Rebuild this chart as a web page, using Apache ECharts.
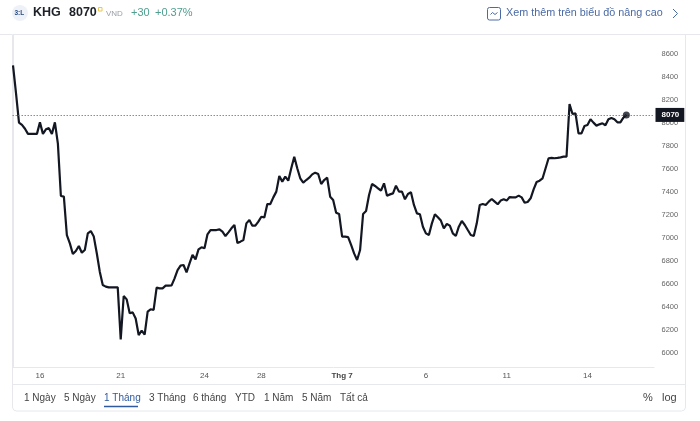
<!DOCTYPE html>
<html><head><meta charset="utf-8">
<style>html,body{margin:0;padding:0;background:#fff}#c{width:700px;height:421px}</style>
<script src="https://cdn.jsdelivr.net/npm/echarts@6/dist/echarts.min.js"></script>
</head><body><div id="c"></div>
<script>
const closes = [
8500,8260,8003,7983,7950,7905,7905,7905,7905,8005,7905,7945,7955,7905,8005,7820,7365,7360,7025,6953,
6860,6887,6930,6872,6895,7040,7060,7012,6867,6707,6591,6577,6570,6570,6570,6570,6118,6495,6466,6345,
6353,6300,6156,6194,6160,6360,6380,6374,6568,6562,6562,6585,6585,6588,6649,6721,6759,6765,6701,6779,
6852,6814,6901,6919,6910,7032,7069,7069,7069,7075,7055,7017,7049,7084,7113,6956,6968,6982,7127,7156,
7107,7107,7142,7185,7179,7295,7295,7353,7403,7539,7490,7533,7498,7606,7707,7606,7519,7481,7504,7524,
7553,7568,7556,7469,7504,7524,7359,7330,7220,7208,7011,7011,7008,6939,6866,6808,6895,7208,7234,7374,
7469,7452,7432,7411,7475,7368,7379,7388,7455,7403,7403,7336,7383,7397,7287,7214,7206,7098,7040,7026,
7127,7206,7180,7151,7084,7122,7107,7040,7017,7098,7148,7113,7069,7026,7017,7127,7287,7295,7287,7316,
7339,7316,7293,7325,7336,7325,7356,7353,7353,7368,7353,7307,7313,7345,7423,7487,7498,7519,7606,7693,
7696,7693,7696,7701,7707,7707,8165,8078,8084,7910,7910,7974,7983,8032,8003,7977,7988,7997,7980,8032,
8043,8032,8006,8006,8046,8070];
const lastPrice = 8070;
const xTickIndex = [9,36,64,83,110,138,165,192];
const xTickLabels = ['16','21','24','28','Thg 7','6','11','14'];
const yTicks = [6000,6200,6400,6600,6800,7000,7200,7400,7600,7800,8000,8200,8400,8600];
const rangeLabels = [['1 Ngày',24],['5 Ngày',64],['1 Tháng',104],['3 Tháng',149],['6 tháng',193],['YTD',235],['1 Năm',264],['5 Năm',302],['Tất cả',340]];

const F = '"Liberation Sans", Arial, sans-serif';
const border = '#e6e8ec';
const dark = '#131722';
const seg = (x1,y1,x2,y2,c,w) => ({type:'line',silent:true,shape:{x1,y1,x2,y2},style:{stroke:c||border,lineWidth:w||1}});
const txt = (x,y,t,s) => ({type:'text',silent:true,x,y,style:Object.assign({text:t,font:'11px '+F,fill:'#444',textVerticalAlign:'middle'},s||{})});

const graphic = [
  {type:'rect',silent:true,shape:{x:12.5,y:34.5,width:673,height:376.5,r:[0,0,4,4]},style:{fill:'none',stroke:border,lineWidth:1}},
  seg(0,34.5,12,34.5), seg(685,34.5,700,34.5),
  seg(12.5,367.5,654.5,367.5), seg(12.5,384.5,685.5,384.5),
  {type:'circle',silent:true,shape:{cx:20,cy:13,r:8},style:{fill:'#eef2f8'}},
  txt(14.5,13.5,'3:L',{font:'bold 6.5px '+F,fill:'#2b4c7e'}),
  txt(33,13,'KHG',{font:'bold 12.5px '+F,fill:'#1d2128'}),
  txt(69,13,'8070',{font:'bold 12.5px '+F,fill:'#1d2128'}),
  {type:'rect',silent:true,shape:{x:98.5,y:7.5,width:3.5,height:3.5},style:{fill:'none',stroke:'#e8c65a',lineWidth:1}},
  txt(106,14,'VND',{font:'8px '+F,fill:'#9aa0a8'}),
  txt(131,13,'+30',{font:'11px '+F,fill:'#4f9e8f'}),
  txt(155,13,'+0.37%',{font:'11px '+F,fill:'#4f9e8f'}),
  {type:'rect',silent:true,shape:{x:487.5,y:7.5,width:13,height:12.5,r:2},style:{fill:'none',stroke:'#4a6aa5',lineWidth:1}},
  {type:'polyline',silent:true,shape:{points:[[490.5,14.5],[492.5,12.5],[495,14.5],[497.5,12.5]]},style:{fill:'none',stroke:'#4a6aa5',lineWidth:1}},
  txt(506,13,'Xem thêm trên biểu đồ nâng cao',{font:'10.8px '+F,fill:'#4a6aa5'}),
  {type:'polyline',silent:true,shape:{points:[[673,9],[677.5,13.5],[673,18]]},style:{fill:'none',stroke:'#4a6aa5',lineWidth:1}},
  seg(104,406.5,138,406.5,'#2f5a9e',1.5),
  txt(643,398,'%',{font:'11px '+F,fill:'#444'}),
  txt(662,398,'log',{font:'11px '+F,fill:'#444'})
];
rangeLabels.forEach(([t,x]) => graphic.push(txt(x,398,t,{font:'10px '+F,fill:t==='1 Tháng'?'#2f5a9e':'#444'})));

const chart = echarts.init(document.getElementById('c'),null,{renderer:'canvas'});
chart.setOption({
  animation:false,
  textStyle:{fontFamily:F},
  grid:{left:12.5,right:45.5,top:35,bottom:54},
  xAxis:{type:'value',min:-0.17,max:214.4,
    axisLine:{show:false},axisTick:{show:false},splitLine:{show:false},
    axisLabel:{customValues:xTickIndex,margin:5,fontSize:8,color:'#555',
      formatter:v=>{const l=xTickLabels[xTickIndex.indexOf(v)];return l==='Thg 7'?'{b|'+l+'}':l;},
      rich:{b:{fontWeight:'bold',fontSize:8,color:'#444'}}}},
  yAxis:{type:'value',position:'right',min:5878,max:8765,
    axisLine:{show:true,lineStyle:{color:border}},axisTick:{show:false},splitLine:{show:false},
    axisLabel:{customValues:yTicks,margin:7,fontSize:7.5,color:'#666',formatter:v=>String(v)}},
  series:[
    {type:'line',data:closes.map((v,i)=>[i,v]),showSymbol:false,lineStyle:{color:dark,width:2.2},itemStyle:{color:dark},
     markLine:{silent:true,symbol:'none',animation:false,data:[{yAxis:lastPrice}],
       lineStyle:{type:[1.5,1.5],color:'#8a8d93',width:1},
       label:{position:'end',distance:1,formatter:'8070',color:'#fff',fontWeight:'bold',fontSize:8,
              backgroundColor:dark,padding:[3,5,3,6]}}},
    {type:'scatter',data:[[closes.length-1,lastPrice]],symbolSize:7,itemStyle:{color:dark},silent:true,z:5}
  ],
  graphic:{elements:graphic}
});
</script></body></html>
